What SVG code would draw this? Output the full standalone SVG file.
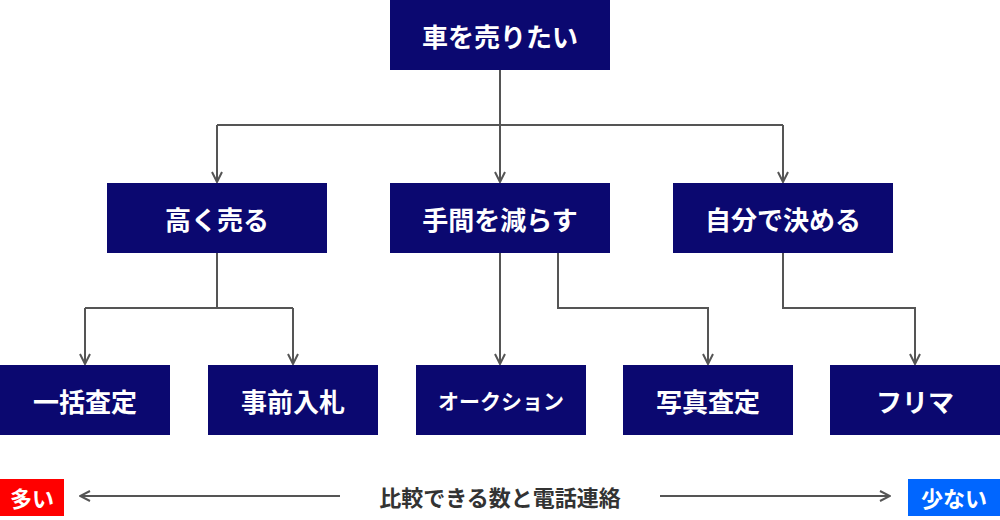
<svg xmlns="http://www.w3.org/2000/svg" width="1000" height="520" viewBox="0 0 1000 520">
<style>
.n{fill:#0b0870}
.t{fill:#fff;font-family:"Noto Sans CJK JP",sans-serif;font-weight:bold;font-size:26px;text-anchor:middle;dominant-baseline:central}
.c{fill:none;stroke:#555;stroke-width:2}
.b{font-family:"Noto Sans CJK JP",sans-serif;font-weight:bold;font-size:22px;text-anchor:middle;dominant-baseline:central}
</style>
<defs>
<marker id="a" viewBox="0 0 12 12" refX="11" refY="6" markerWidth="12" markerHeight="12" markerUnits="userSpaceOnUse" orient="auto"><path d="M1,1 L11,6 L1,11" fill="none" stroke="#555" stroke-width="2"/></marker>
</defs>
<rect width="1000" height="520" fill="#fff"/>
<g id="connectors">
<path class="c" d="M500,70 V125 M217,125 H783"/>
<path class="c" d="M217,125 V182" marker-end="url(#a)"/>
<path class="c" d="M500,125 V182" marker-end="url(#a)"/>
<path class="c" d="M783,125 V182" marker-end="url(#a)"/>
<path class="c" d="M217,253 V308 M85,308 H293"/>
<path class="c" d="M85,308 V364" marker-end="url(#a)"/>
<path class="c" d="M293,308 V364" marker-end="url(#a)"/>
<path class="c" d="M500,253 V364" marker-end="url(#a)"/>
<path class="c" d="M558,253 V308 H708 V364" marker-end="url(#a)"/>
<path class="c" d="M783,253 V308 H915 V364" marker-end="url(#a)"/>
<path class="c" d="M340,496 H80" marker-end="url(#a)"/>
<path class="c" d="M660,496 H890" marker-end="url(#a)"/>
</g>
<g id="n0"><rect class="n" x="390" y="0" width="220" height="70"/><text class="t" x="500" y="35">車を売りたい</text></g>
<g id="n1"><rect class="n" x="107" y="183" width="220" height="70"/><text class="t" x="217" y="218">高く売る</text></g>
<g id="n2"><rect class="n" x="390" y="183" width="220" height="70"/><text class="t" x="500" y="218">手間を減らす</text></g>
<g id="n3"><rect class="n" x="673" y="183" width="220" height="70"/><text class="t" x="783" y="218">自分で決める</text></g>
<g id="n4"><rect class="n" x="0" y="365" width="170" height="70"/><text class="t" x="85" y="400">一括査定</text></g>
<g id="n5"><rect class="n" x="208" y="365" width="170" height="70"/><text class="t" x="293" y="400">事前入札</text></g>
<g id="n6"><rect class="n" x="416" y="365" width="170" height="70"/><text class="t" x="501" y="400" style="font-size:21px">オークション</text></g>
<g id="n7"><rect class="n" x="623" y="365" width="170" height="70"/><text class="t" x="708" y="400">写真査定</text></g>
<g id="n8"><rect class="n" x="830" y="365" width="170" height="70"/><text class="t" x="915" y="400">フリマ</text></g>
<g id="legend">
<rect x="0" y="479" width="64" height="37" fill="#f00"/><text class="b" x="32" y="497" fill="#fff">多い</text>
<rect x="908" y="479" width="92" height="37" fill="#0066ff"/><text class="b" x="954" y="497" fill="#fff">少ない</text>
<text class="b" x="500" y="496" fill="#333">比較できる数と電話連絡</text>
</g>
</svg>
